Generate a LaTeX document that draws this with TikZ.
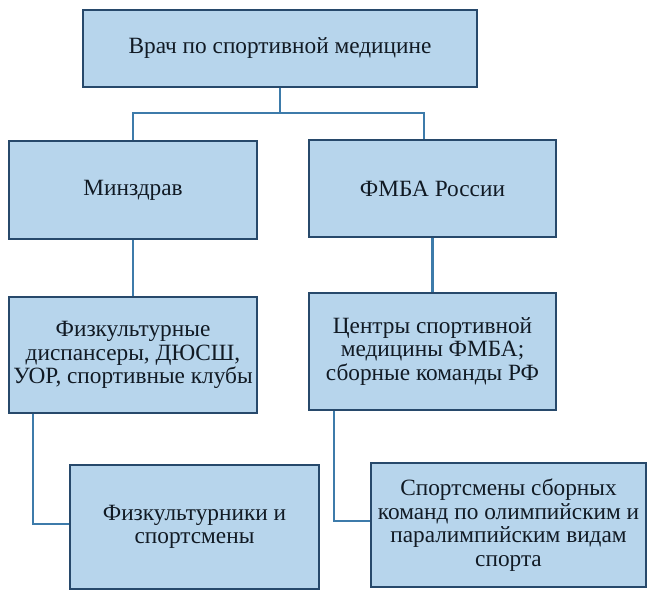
\documentclass[tikz,border=0pt]{standalone}
\usepackage{fontspec}
\setmainfont{Liberation Serif}
\usetikzlibrary{positioning, calc}
\definecolor{cfill}{HTML}{B7D5EC}
\definecolor{cborder}{HTML}{27496B}
\definecolor{cline}{HTML}{3D7BAA}
\definecolor{ctext}{HTML}{111A24}
\tikzset{
  every picture/.style={x=1pt, y=-1pt},
  box/.style={draw=cborder, fill=cfill, line width=1.5pt, align=center, inner sep=2pt,
    text=ctext, font=\fontsize{23.3}{23.5}\selectfont},
  link/.style={draw=cline, line width=2.2pt},
}

\begin{document}
\begin{tikzpicture}
  \useasboundingbox (0,0) rectangle (656,596);
  \node[box, minimum width=394pt, minimum height=77pt] (doc) at (280,48.5) {Врач по спортивной медицине};
  \node[box, minimum width=248pt, minimum height=98pt] (minz) at (133,190) {Минздрав};
  \node[box, minimum width=247pt, minimum height=97pt] (fmba) at (432.5,188.5) {ФМБА России};
  \node[box, minimum width=248pt, minimum height=116pt] (disp) at (133,355) {Физкультурные\\диспансеры, ДЮСШ,\\УОР, спортивные клубы};
  \node[box, minimum width=247pt, minimum height=117pt] (cent) at (432.5,351.5) {Центры спортивной\\медицины ФМБА;\\сборные команды РФ};
  \node[box, minimum width=249pt, minimum height=124pt] (amat) at (194.5,527) {Физкультурники и\\спортсмены};
  \node[box, minimum width=275pt, minimum height=124pt] (elite) at (508.5,525) {Спортсмены сборных\\команд по олимпийским и\\паралимпийским видам\\спорта};
  % links
  \coordinate (split) at (280,113);
  \draw[link] (doc.south) -- (split);
  \draw[link] (split) -| (minz.north);
  \draw[link] (split) -| ([xshift=-8.5pt]fmba.north);
  \draw[link] (minz) -- (disp);
  \draw[link] (fmba) -- (cent);
  \draw[link] ([xshift=-100pt]disp.south) |- ([yshift=3pt]amat.west);
  \draw[link] ([xshift=-98.5pt]cent.south) |- ([yshift=4pt]elite.west);
\end{tikzpicture}
\end{document}
